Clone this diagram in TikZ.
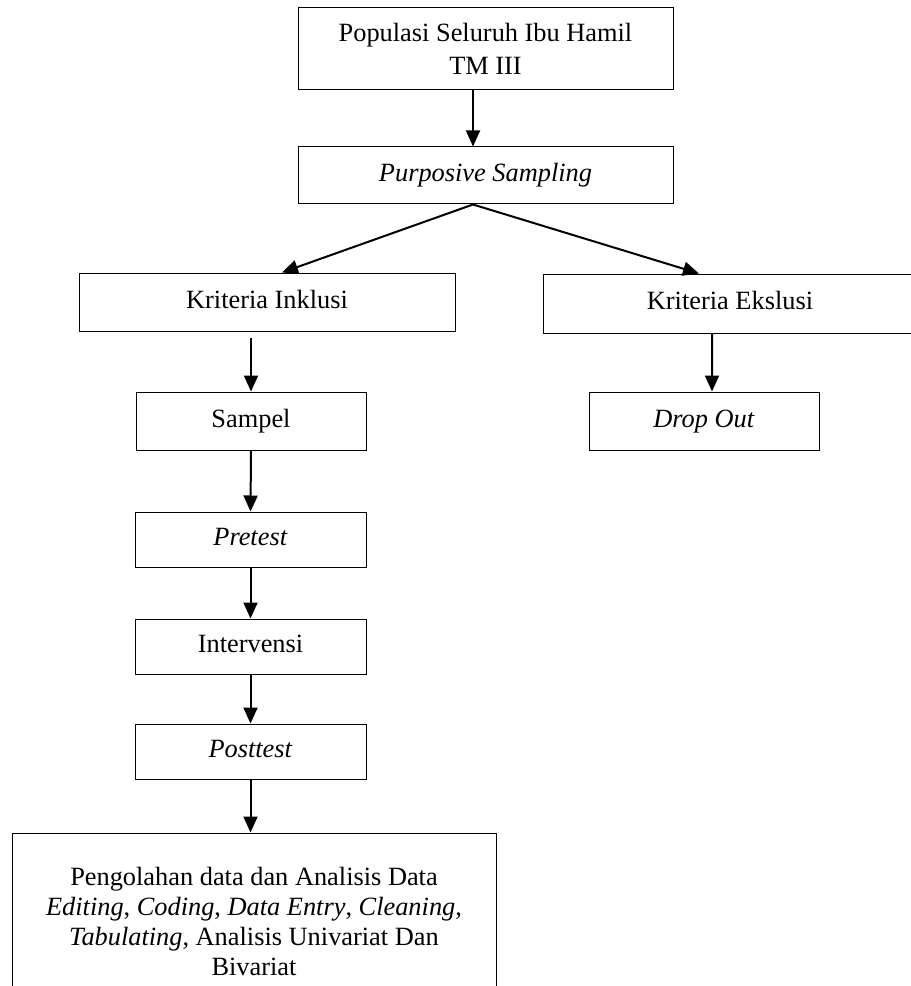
\documentclass[tikz,border=0pt]{standalone}
\usepackage{fontspec}
\setmainfont{Liberation Serif}
\usetikzlibrary{arrows.meta}

\begin{document}
\begin{tikzpicture}
\tikzstyle{box}=[draw,line width=0.02cm,align=center,inner sep=0pt,font=\fontsize{15}{18.7}\selectfont]
\tikzstyle{onebox}=[box,text height=10.7pt,text depth=3.7pt]
\tikzstyle{arr}=[line width=0.04cm,-{Triangle[length=0.32cm,width=0.28cm]}]
\path[use as bounding box,clip] (0,0) rectangle (18.22,-19.72);
\node[box,minimum width=7.5cm,minimum height=1.64cm] (pop) at (9.71,-0.98) {Populasi Seluruh Ibu Hamil\\TM III};
\node[onebox,minimum width=7.5cm,minimum height=1.14cm] (pur) at (9.71,-3.51) {\textit{Purposive Sampling}};
\node[onebox,minimum width=7.52cm,minimum height=1.16cm] (inkl) at (5.34,-6.04) {Kriteria Inklusi};
\node[onebox,minimum width=7.48cm,minimum height=1.18cm] (eks) at (14.6,-6.07) {Kriteria Ekslusi};
\node[onebox,minimum width=4.6cm,minimum height=1.16cm] (samp) at (5.02,-8.42) {Sampel};
\node[onebox,minimum width=4.6cm,minimum height=1.16cm] (drop) at (14.08,-8.42) {\textit{Drop Out}};
\node[onebox,minimum width=4.62cm,minimum height=1.1cm] (pre) at (5.01,-10.79) {\textit{Pretest}};
\node[onebox,minimum width=4.62cm,minimum height=1.1cm] (intv) at (5.01,-12.93) {Intervensi};
\node[onebox,minimum width=4.62cm,minimum height=1.1cm] (post) at (5.01,-15.03) {\textit{Posttest}};
\node[box,minimum width=9.68cm,minimum height=3.54cm,font=\fontsize{15}{17}\selectfont] (fin) at (5.08,-18.43)
  {Pengolahan data dan Analisis Data\\
   \textit{Editing}, \textit{Coding}, \textit{Data Entry}, \textit{Cleaning},\\
   \textit{Tabulating}, Analisis Univariat Dan\\
   Bivariat};
\draw[arr] ([xshift=-0.25cm]pop.south) -- ([xshift=-0.25cm]pur.north);
\draw[arr,{Triangle[length=0.32cm,width=0.28cm]}-{Triangle[length=0.32cm,width=0.28cm]}]
  ([xshift=0.3cm]inkl.north) -- ([xshift=-0.25cm]pur.south) -- ([xshift=-0.62cm]eks.north);
\draw[arr] ([yshift=-0.12cm]samp.north |- inkl.south) -- (samp.north);
\draw[arr] ([xshift=-0.36cm]eks.south) -- ([xshift=0.16cm]drop.north);
\draw[arr] (samp.south) -- (pre.north);
\draw[arr] (pre.south) -- (intv.north);
\draw[arr] (intv.south) -- (post.north);
\draw[arr] (post.south) -- (post.south |- fin.north);
\end{tikzpicture}
\end{document}
